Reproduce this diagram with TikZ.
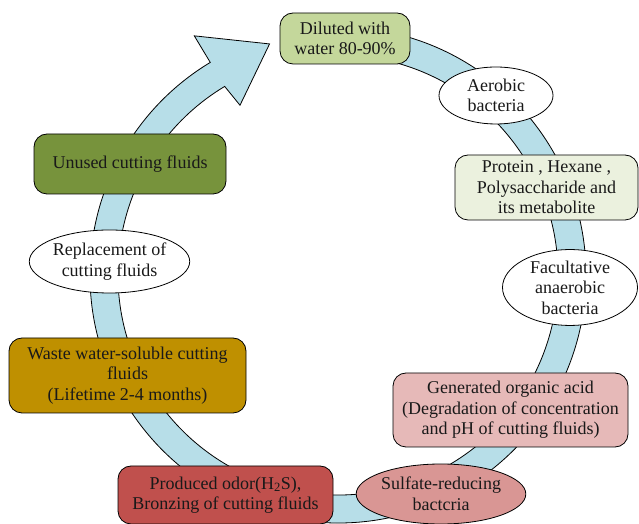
\documentclass[tikz,border=0pt]{standalone}
\usepackage{fontspec}
\setmainfont{Liberation Serif}
\usetikzlibrary{shapes.geometric}
\definecolor{bandblue}{HTML}{B7DEE8}
\definecolor{dilgreen}{HTML}{C4D79B}
\definecolor{protgreen}{HTML}{EBF1DE}
\definecolor{genpink}{HTML}{E6B9B8}
\definecolor{sulfrose}{HTML}{D99694}
\definecolor{prodred}{HTML}{C0504D}
\definecolor{wastegold}{HTML}{BF9000}
\definecolor{unusedolive}{HTML}{77933C}

\begin{document}
\begin{tikzpicture}[x=1pt,y=1pt,
	txt/.style={align=center, inner sep=0pt, line width=0.8pt, text=black!90,
		font=\fontsize{18}{20.5}\selectfont},
	box/.style={txt, draw, rounded corners=13pt},
	bubble/.style={txt, draw, ellipse, fill=white}]
	\useasboundingbox (0,0) rectangle (639,524);
	% the cycle band with its head
	\begin{scope}[shift={(338,249)}]
		\draw[fill=bandblue, line width=0.8pt] (85:248)
			arc[start angle=85, end angle=-239, radius=248]
			-- (121:279) -- (106.5:241) -- (120:196) -- (121:220)
			arc[start angle=-239, end angle=85, radius=220] -- cycle;
	\end{scope}
	% stages
	\node[box, fill=dilgreen, minimum width=130, minimum height=51] (dil) at (345,485.5) {Diluted with\\water 80-90\%};
	\node[bubble, minimum width=114, minimum height=57] (aer) at (496,428.5) {Aerobic\\bacteria};
	\node[box, fill=protgreen, minimum width=183, minimum height=65] (prot) at (546.5,336.5) {Protein , Hexane ,\\Polysaccharide and\\its metabolite};
	\node[bubble, minimum width=135, minimum height=71] (fac) at (570,236.5) {Facultative\\anaerobic\\bacteria};
	\node[box, fill=genpink, minimum width=235, minimum height=74] (gen) at (510.5,114) {Generated organic acid\\(Degradation of concentration\\and pH of cutting fluids)};
	\node[bubble, fill=sulfrose, minimum width=145, minimum height=60] (sulf) at (441,30) {Sulfate-reducing\\bactcria};
	\node[box, fill=prodred, minimum width=215, minimum height=58] (prod) at (225.5,29) {Produced odor(H\textsubscript{2}S),\\Bronzing of cutting fluids};
	\node[box, fill=wastegold, minimum width=237, minimum height=75] (waste) at (127.5,148.5) {Waste water-soluble cutting\\fluids\\(Lifetime 2-4 months)};
	\node[bubble, minimum width=147, minimum height=63] (repl) at (109.5,262.5) {Replacement of\\cutting fluids};
	\node[box, fill=unusedolive, minimum width=192, minimum height=60] (unused) at (130,360) {Unused cutting fluids};
\end{tikzpicture}
\end{document}
